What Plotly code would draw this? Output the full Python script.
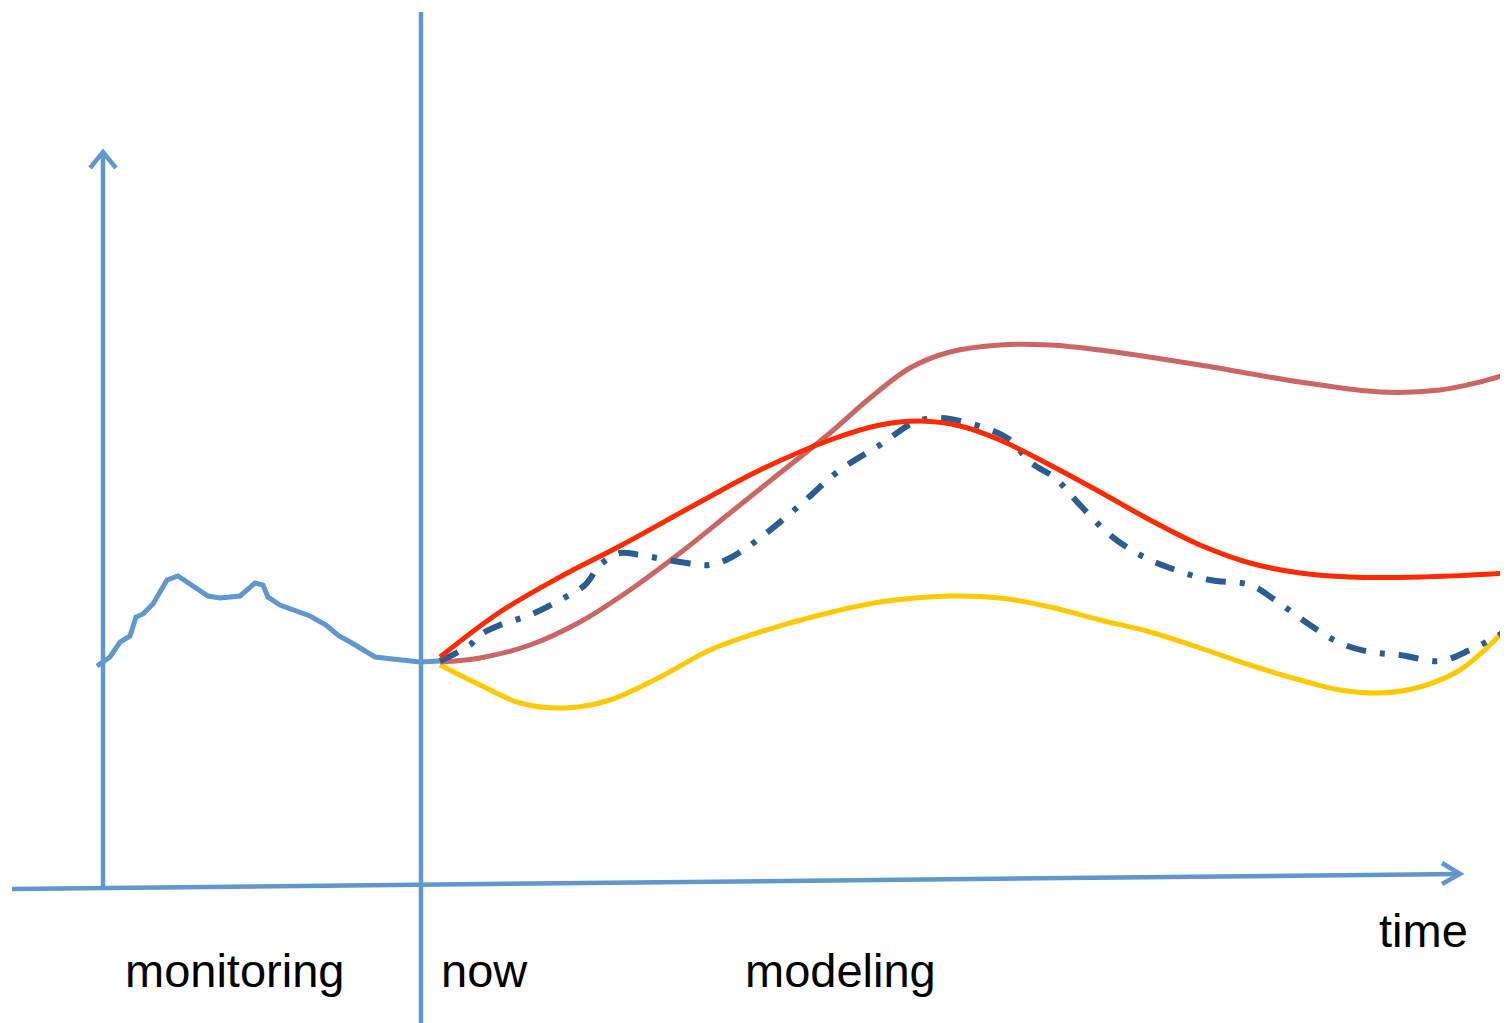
import plotly.graph_objects as go

# ---- data (in picture units: x right, y down) ----
monitor_x = [97, 110, 120, 130, 136, 143, 153, 167, 178, 193, 208, 220, 240, 255, 263, 268, 280, 310, 326, 339, 352, 375, 420, 440]
monitor_y = [666, 657, 642, 636, 617, 614, 604, 580, 576, 586, 596, 598, 596, 583, 585, 597, 605, 616, 625, 636, 643, 657, 662, 661]

red_x = [440, 500, 560, 620, 700, 760, 830, 880, 920, 960, 1000, 1050, 1100, 1150, 1200, 1250, 1300, 1350, 1420, 1508]
red_y = [657, 612, 577, 546, 502, 470, 440, 425, 421, 426, 440, 465, 492, 520, 545, 563, 573, 577, 577, 573]

brown_x = [440, 480, 530, 580, 630, 680, 730, 780, 830, 870, 910, 950, 1000, 1050, 1100, 1200, 1300, 1380, 1440, 1480, 1508]
brown_y = [662, 658, 645, 622, 590, 553, 513, 473, 433, 398, 368, 352, 345, 345, 350, 365, 382, 392, 390, 382, 374]

yellow_x = [440, 480, 520, 565, 610, 660, 710, 760, 820, 880, 950, 1000, 1050, 1100, 1150, 1200, 1250, 1300, 1340, 1380, 1420, 1460, 1490, 1508]
yellow_y = [665, 685, 703, 708, 700, 677, 650, 632, 615, 602, 596, 598, 607, 620, 632, 648, 665, 680, 690, 693, 687, 670, 645, 625]

dash_x = [440, 470, 480, 500, 530, 560, 585, 600, 620, 640, 680, 710, 730, 760, 800, 840, 880, 915, 940, 985, 1010, 1030, 1055, 1080, 1110, 1140, 1170, 1210, 1250, 1275, 1310, 1340, 1370, 1400, 1440, 1470, 1490, 1508]
dash_y = [661, 645, 635, 625, 615, 600, 585, 565, 553, 555, 562, 565, 558, 538, 505, 470, 445, 422, 418, 428, 440, 462, 478, 505, 535, 555, 568, 580, 585, 600, 625, 643, 652, 655, 661, 650, 640, 630]

# axes of the sketch
yaxis_line_x = [103, 103]
yaxis_line_y = [887, 152]
yarrow_x = [90, 103, 116]
yarrow_y = [168, 152, 168]
xaxis_line_x = [12, 1460]
xaxis_line_y = [889, 874]
xarrow_x = [1442, 1460, 1442]
xarrow_y = [863, 874, 884]
now_x = [421, 421]
now_y = [12, 1023]

labels = ["monitoring", "now", "modeling", "time"]
label_x = [234, 484, 840, 1423]
label_y = [970, 970, 970, 930]

AXIS_BLUE = "#6097CC"
PAGE_OFFSET = 8  # default body margin of the html page

fig = go.Figure()

def add_line(x, y, color, width, shape="linear", dash=None):
    fig.add_trace(go.Scatter(x=x, y=y, mode="lines",
                             line=dict(color=color, width=width, shape=shape, dash=dash),
                             hoverinfo="skip", showlegend=False))

add_line(xaxis_line_x, xaxis_line_y, AXIS_BLUE, 4.5)
add_line(xarrow_x, xarrow_y, AXIS_BLUE, 4.5)
add_line(yaxis_line_x, yaxis_line_y, AXIS_BLUE, 4.5)
add_line(yarrow_x, yarrow_y, AXIS_BLUE, 4.5)
add_line(now_x, now_y, AXIS_BLUE, 4.5)
add_line(monitor_x, monitor_y, AXIS_BLUE, 5)

add_line(yellow_x, yellow_y, "#FFC800", 5, "spline")
add_line(brown_x, brown_y, "#CC6663", 5, "spline")
add_line(dash_x, dash_y, "#2B5D93", 6, "spline", "20px,14px,5px,14px")
add_line(red_x, red_y, "#FF2A00", 5, "spline")

for t, x, y in zip(labels, label_x, label_y):
    fig.add_annotation(x=x, y=y, text=t, showarrow=False, xanchor="center", yanchor="middle",
                       font=dict(family="Liberation Sans, Arial, sans-serif", size=47, color="black"))

W, H = 1508, 1023
fig.update_layout(
    width=W - PAGE_OFFSET, height=H - PAGE_OFFSET,
    margin=dict(l=0, r=0, t=0, b=0),
    paper_bgcolor="white", plot_bgcolor="white",
    xaxis=dict(range=[PAGE_OFFSET, W], visible=False, fixedrange=True),
    yaxis=dict(range=[H, PAGE_OFFSET], visible=False, fixedrange=True),
)

fig.write_html("out.html")
